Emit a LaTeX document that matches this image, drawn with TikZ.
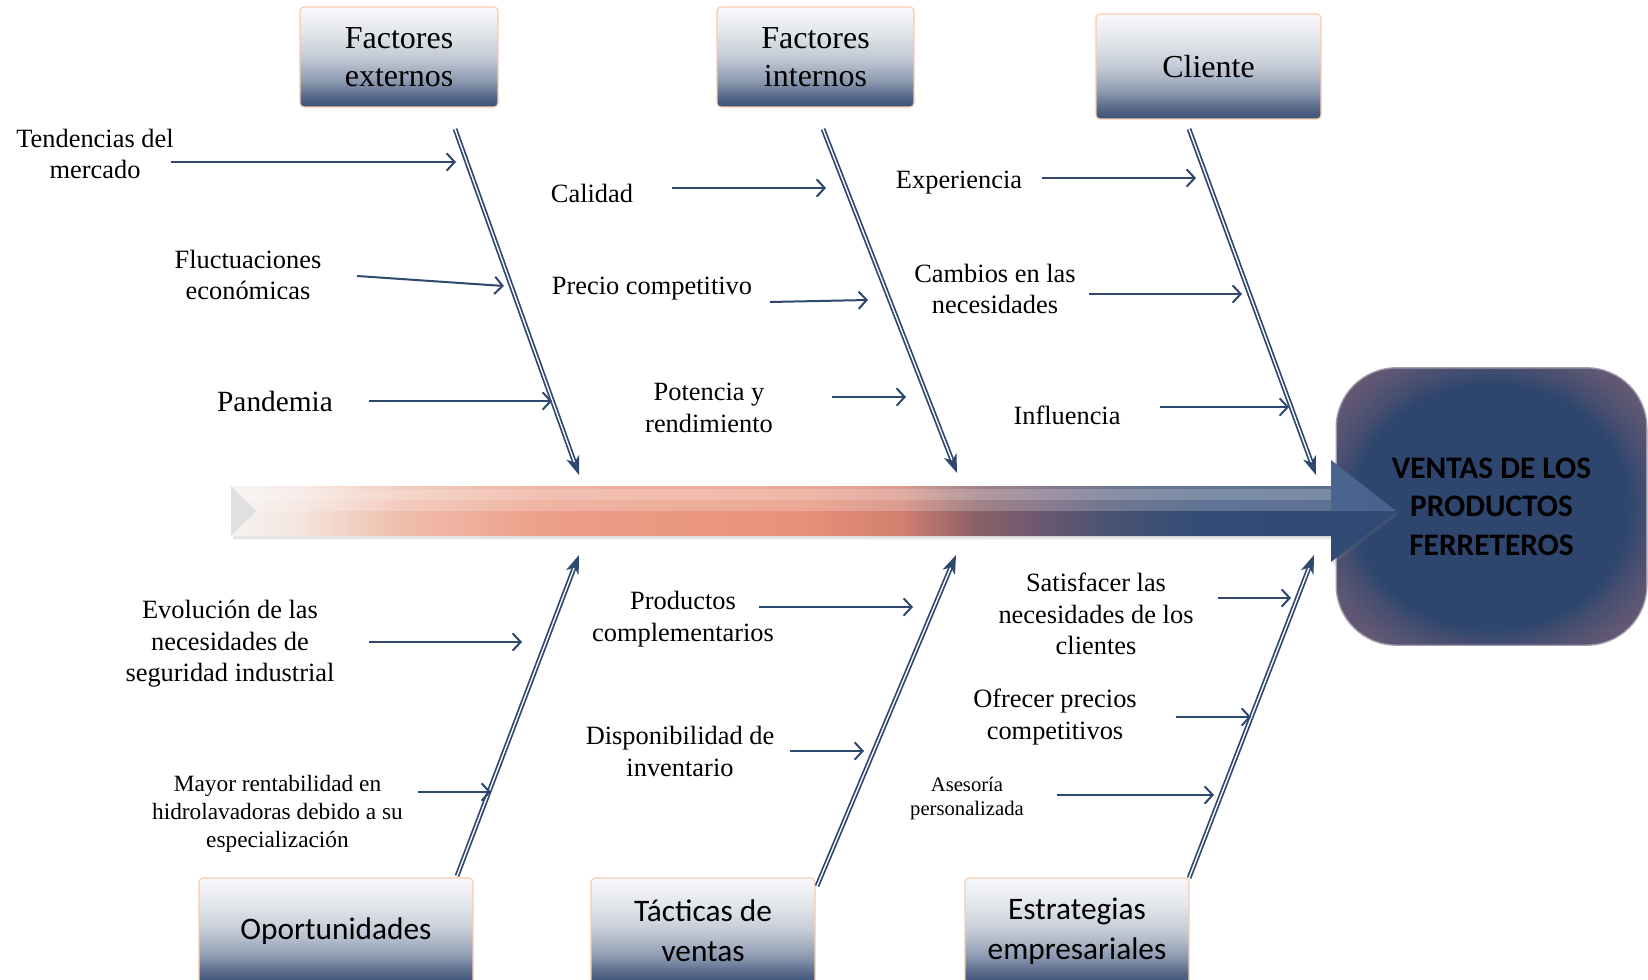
\documentclass[tikz,border=0pt]{standalone}
\usepackage{fontspec}
\setmainfont{Liberation Serif}
\newfontfamily\calibri{Carlito}
\usetikzlibrary{arrows.meta, positioning, calc, shadows}

\definecolor{bonecol}{RGB}{46,72,112}
\definecolor{peach}{RGB}{248,203,173}
\definecolor{boxtop}{RGB}{248,249,251}
\definecolor{boxpale}{RGB}{226,229,234}
\definecolor{boxmid}{RGB}{196,203,214}
\definecolor{boxlow}{RGB}{140,154,176}
\definecolor{boxdeep}{RGB}{85,102,136}
\definecolor{boxbot}{RGB}{59,81,120}
\definecolor{navy}{RGB}{47,74,115}
\definecolor{headfill}{RGB}{46,70,110}
\definecolor{headmid}{RGB}{70,78,112}
\definecolor{headedge}{RGB}{98,88,116}
\definecolor{glint}{RGB}{150,180,225}
\definecolor{sp0}{RGB}{246,242,240}
\definecolor{sp1}{RGB}{245,228,222}
\definecolor{sp2}{RGB}{240,190,172}
\definecolor{sp3}{RGB}{235,158,136}
\definecolor{sp4}{RGB}{233,145,122}
\definecolor{sp5}{RGB}{210,128,112}
\definecolor{sp6}{RGB}{138,96,104}
\definecolor{sp7}{RGB}{106,88,112}
\definecolor{sp8}{RGB}{72,82,115}
\definecolor{sp9}{RGB}{50,76,118}

\pgfdeclareverticalshading{boxgrad}{100bp}{color(0bp)=(boxbot); color(25bp)=(boxbot); color(30bp)=(boxdeep); color(38bp)=(boxlow); color(50bp)=(boxmid); color(62bp)=(boxpale); color(75bp)=(boxtop); color(100bp)=(boxtop)}
\pgfdeclarehorizontalshading{spinegrad}{100bp}{color(0bp)=(sp0); color(25bp)=(sp0); color(28bp)=(sp1); color(32.3bp)=(sp2); color(38.7bp)=(sp3); color(49.4bp)=(sp4); color(53.7bp)=(sp5); color(57bp)=(sp6); color(59.8bp)=(sp7); color(62.8bp)=(sp8); color(67.1bp)=(sp9); color(75bp)=(navy); color(100bp)=(navy)}
\pgfdeclareradialshading{headgrad}{\pgfpoint{0bp}{0bp}}{color(0bp)=(headfill); color(22bp)=(headfill); color(25bp)=(headmid); color(30bp)=(headedge); color(50bp)=(headedge)}

\tikzset{
  catbox/.style={draw=peach, line width=0.8pt, rounded corners=3pt, shading=boxgrad, align=center, inner sep=0pt},
  topbox/.style={catbox, font=\fontsize{24}{28.4}\selectfont},
  botbox/.style={catbox, font=\calibri\fontsize{23.5}{30}\selectfont, minimum width=168pt, minimum height=79.5pt},
  headbox/.style={rounded corners=45pt, shading=headgrad, draw=headedge!60, line width=1pt, align=center,
    font=\calibri\bfseries\fontsize{23.5}{29}\selectfont},
  bone/.style={draw=bonecol, double=white, double distance=1pt, line width=1.3pt,
    -{Stealth[length=14pt, width=10pt, inset=4pt]}},
  cause/.style={draw=bonecol, line width=1.5pt, -{Straight Barb[length=6pt, width=13pt]}},
  lbl/.style={align=center, inner sep=0pt},
}

\begin{document}
\begin{tikzpicture}[x=0.75pt, y=-0.75pt, font=\fontsize{19.8}{23.6}\selectfont]
    \useasboundingbox (0,0) rectangle (1648,980);
    \fill[white] (0,0) rectangle (1648,980);

    % effect box
    \node[headbox, minimum width=233pt, minimum height=208pt] (head) at (1491.5,506.5) {VENTAS DE LOS\\PRODUCTOS\\FERRETEROS};

    % spine
    \coordinate (tail) at (231,511);
    \coordinate (tip) at (1396,511);
    \shade[shading=spinegrad, drop shadow={opacity=0.2, shadow xshift=1.5pt, shadow yshift=-2.5pt}]
        (tail |- 0,486) -- (1331,486) -- (1331,460) -- (tip) -- (1331,562) -- (1331,536) -- (tail |- 0,536) -- cycle;
    \fill[white, opacity=0.22] (tail |- 0,486) rectangle (1331,511);
    \fill[white, opacity=0.18] (tail |- 0,489) rectangle (1331,500);
    \fill[glint, opacity=0.25] (1331,460) -- (tip) -- (1331,511) -- cycle;
    \fill[black!12] (tail |- 0,486) -- ($(tail)+(25,0)$) -- (tail |- 0,536) -- cycle;

    % categories
    \node[topbox, minimum width=148.5pt, minimum height=75pt] (fext) at (399,57) {Factores\\externos};
    \node[topbox, minimum width=147.75pt, minimum height=75pt] (fint) at (815.5,57) {Factores\\internos};
    \node[topbox, minimum width=168.75pt, minimum height=78.75pt] (cli) at (1208.5,66.5) {Cliente};
    \node[botbox, minimum width=205.5pt] (opor) at (336,931) {Oportunidades};
    \node[botbox] (tact) at (703,931) {Tácticas de\\ventas};
    \node[botbox] (estr) at (1077,931) {Estrategias\\empresariales};

    % bones
    \coordinate (b1s) at (455,129); \coordinate (b1e) at (579,475);
    \coordinate (b2s) at (823,129); \coordinate (b2e) at (957,473);
    \coordinate (b3s) at (1189,129); \coordinate (b3e) at (1316,475);
    \coordinate (b4s) at (457,876); \coordinate (b4e) at (579,555);
    \coordinate (b5s) at (817,886); \coordinate (b5e) at (956,555);
    \coordinate (b6s) at (1189,878); \coordinate (b6e) at (1314,555);
    \foreach \b in {1,...,6} {
        \draw[bone] (b\b s) -- (b\b e);
    };

    % external factors
    \node[lbl] (tend) at (95,154) {Tendencias del\\mercado};
    \coordinate (tend-a) at (171,162); \coordinate (tend-b) at (456,162);
    \draw[cause] (tend-a) -- (tend-b);
    \node[lbl] (fluct) at (248,275) {Fluctuaciones\\económicas};
    \coordinate (fluct-a) at (357,276); \coordinate (fluct-b) at (504,286);
    \draw[cause] (fluct-a) -- (fluct-b);
    \node[lbl, font=\fontsize{22}{26}\selectfont] (pand) at (275,401) {Pandemia};
    \coordinate (pand-a) at (369,401); \coordinate (pand-b) at (552,401);
    \draw[cause] (pand-a) -- (pand-b);

    % internal factors
    \node[lbl] (cal) at (592,193) {Calidad};
    \coordinate (cal-a) at (672,188); \coordinate (cal-b) at (826,188);
    \draw[cause] (cal-a) -- (cal-b);
    \node[lbl] (prec) at (652,289) {Precio competitivo};
    \coordinate (prec-a) at (770,302); \coordinate (prec-b) at (868,300);
    \draw[cause] (prec-a) -- (prec-b);
    \node[lbl] (pot) at (709,408) {Potencia y\\rendimiento};
    \coordinate (pot-a) at (832,397); \coordinate (pot-b) at (906,397);
    \draw[cause] (pot-a) -- (pot-b);

    % client
    \node[lbl] (exper) at (959,183) {Experiencia};
    \coordinate (exper-a) at (1042,178); \coordinate (exper-b) at (1196,178);
    \draw[cause] (exper-a) -- (exper-b);
    \node[lbl] (camb) at (995,289) {Cambios en las\\necesidades};
    \coordinate (camb-a) at (1089,294); \coordinate (camb-b) at (1242,294);
    \draw[cause] (camb-a) -- (camb-b);
    \node[lbl] (infl) at (1067,415) {Influencia};
    \coordinate (infl-a) at (1160,407); \coordinate (infl-b) at (1289,407);
    \draw[cause] (infl-a) -- (infl-b);

    % opportunities
    \node[lbl] (evol) at (230,644) {Evolución de las\\necesidades de\\seguridad industrial};
    \coordinate (evol-a) at (369,642); \coordinate (evol-b) at (522,642);
    \draw[cause] (evol-a) -- (evol-b);
    \node[lbl, font=\fontsize{17.5}{21}\selectfont] (mayor) at (277.5,814) {Mayor rentabilidad en\\hidrolavadoras debido a su\\especialización};
    \coordinate (mayor-a) at (418,792); \coordinate (mayor-b) at (491,792);
    \draw[cause] (mayor-a) -- (mayor-b);

    % sales tactics
    \node[lbl] (prod) at (683,619) {Productos\\complementarios};
    \coordinate (prod-a) at (759,607); \coordinate (prod-b) at (913,607);
    \draw[cause] (prod-a) -- (prod-b);
    \node[lbl] (disp) at (680,751.5) {Disponibilidad de\\inventario};
    \coordinate (disp-a) at (790,751); \coordinate (disp-b) at (864,751);
    \draw[cause] (disp-a) -- (disp-b);

    % business strategies
    \node[lbl] (satis) at (1096,614) {Satisfacer las\\necesidades de los\\clientes};
    \coordinate (satis-a) at (1218,598); \coordinate (satis-b) at (1291,598);
    \draw[cause] (satis-a) -- (satis-b);
    \node[lbl] (ofre) at (1055,717) {Ofrecer precios\\competitivos};
    \coordinate (ofre-a) at (1176,717); \coordinate (ofre-b) at (1251,717);
    \draw[cause] (ofre-a) -- (ofre-b);
    \node[lbl, font=\fontsize{15.5}{18}\selectfont] (ases) at (967,799) {Asesoría\\personalizada};
    \coordinate (ases-a) at (1057,795); \coordinate (ases-b) at (1214,795);
    \draw[cause] (ases-a) -- (ases-b);
\end{tikzpicture}
\end{document}
